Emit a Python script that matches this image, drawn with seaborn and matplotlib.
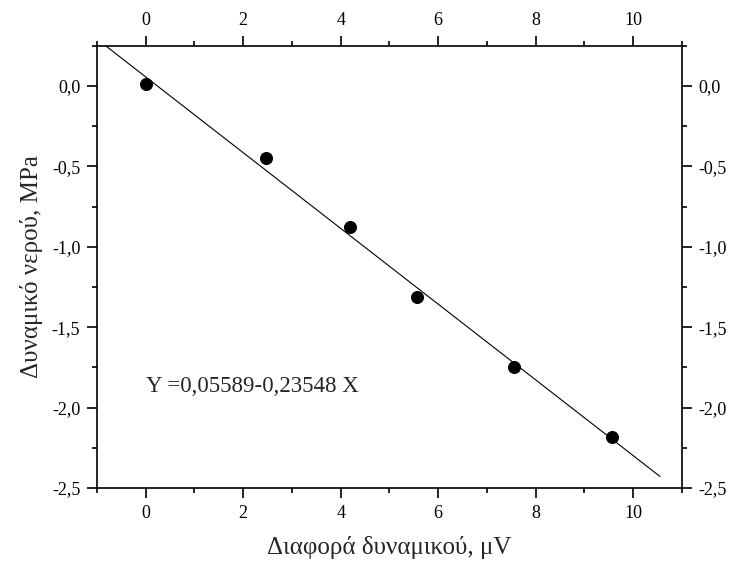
import numpy as np
import pandas as pd
import matplotlib
matplotlib.use("Agg")
import matplotlib.pyplot as plt
from matplotlib.ticker import MultipleLocator, FuncFormatter
import seaborn as sns

# dữ liệu
diff_uv = [0.0, 2.47, 4.19, 5.57, 7.56, 9.57]
water_mpa = [0.01, -0.445, -0.88, -1.315, -1.75, -2.18]
intercept = 0.05589
slope = -0.23548
fit_range = [-0.84, 10.55]
eq_text = "Y =0,05589-0,23548 X"

sns.set_style("ticks")
plt.rcParams['font.family'] = ['Liberation Serif', 'DejaVu Serif']
plt.rcParams['axes.linewidth'] = 1.2

df = pd.DataFrame({'x': diff_uv, 'y': water_mpa})
fit_x = np.array(fit_range)
fit = pd.DataFrame({'x': fit_x, 'y': intercept + slope * fit_x})

fig = plt.figure(figsize=(7.33, 5.61), dpi=100)
ax = fig.add_axes([0.1323, 0.1301, 0.7981, 0.7884])

sns.lineplot(data=fit, x='x', y='y', ax=ax, color='black', linewidth=0.8)
sns.scatterplot(data=df, x='x', y='y', ax=ax, color='black', s=75,
                edgecolor='black', zorder=3)

ax.set_xlim(-1, 11)
ax.set_ylim(-2.5, 0.25)
ax.xaxis.set_major_locator(MultipleLocator(2))
ax.xaxis.set_minor_locator(MultipleLocator(1))
ax.yaxis.set_major_locator(MultipleLocator(0.5))
ax.yaxis.set_minor_locator(MultipleLocator(0.25))

comma = FuncFormatter(lambda v, p: ("%.1f" % v).replace('.', ',').replace('-0,0', '0,0'))
ax.yaxis.set_major_formatter(comma)
ax.xaxis.set_major_formatter(FuncFormatter(lambda v, p: "%d" % v))

ax.tick_params(which='both', direction='out', top=True, right=True,
               labeltop=True, labelright=True, width=1.2, colors='black')
ax.tick_params(which='major', length=7, labelsize=13, pad=5)
ax.tick_params(which='minor', length=3.5)
for s in ax.spines.values():
    s.set_visible(True)
    s.set_color('black')

ax.set_xlabel("Διαφορά δυναμικού, μV", fontsize=18, labelpad=10)
ax.set_ylabel("Δυναμικό νερού, MPa", fontsize=18, labelpad=6)
ax.text(0.0, -1.87, eq_text, fontsize=16.5, va='center', ha='left')

fig.savefig("out.png", dpi=100)
